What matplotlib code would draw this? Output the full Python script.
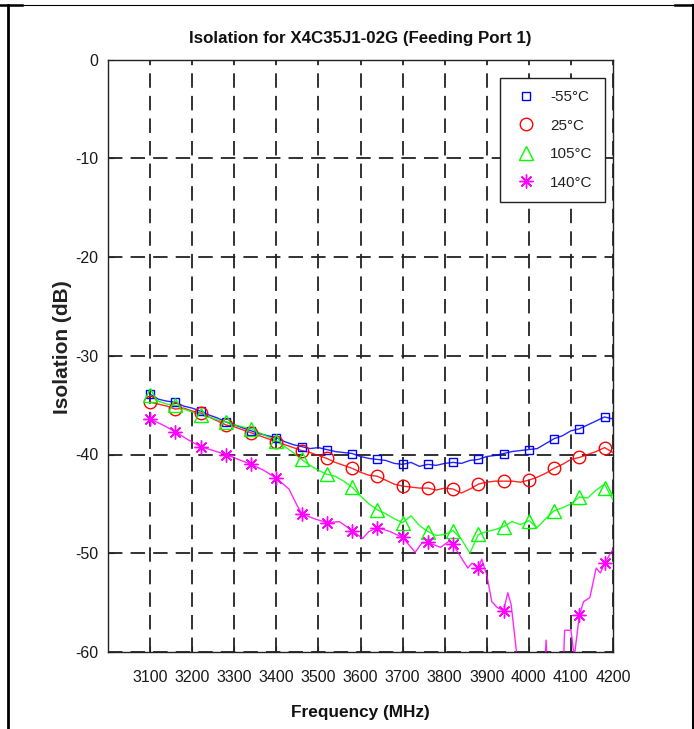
import matplotlib
matplotlib.use('Agg')
import matplotlib.pyplot as plt
from matplotlib.lines import Line2D
import numpy as np

# ---- data ----
marker_freq = [3100, 3160, 3220, 3280, 3340, 3400, 3460, 3520, 3580, 3640,
               3700, 3760, 3820, 3880, 3940, 4000, 4060, 4120, 4180]

m55_marks = [-33.9, -34.7, -35.6, -36.7, -37.6, -38.3, -39.2, -39.5, -39.9, -40.5,
             -41.0, -41.0, -40.8, -40.5, -39.9, -39.5, -38.4, -37.4, -36.2]
t25_marks = [-34.7, -35.4, -35.8, -37.0, -37.8, -38.7, -39.6, -40.4, -41.4, -42.2,
             -43.2, -43.4, -43.5, -43.0, -42.7, -42.6, -41.4, -40.3, -39.3]
t105_marks = [-34.0, -35.0, -36.0, -36.7, -37.4, -38.6, -40.5, -42.0, -43.3, -45.6,
              -46.9, -47.8, -47.7, -48.1, -47.3, -46.7, -45.7, -44.3, -43.4]
t140_marks = [-36.4, -37.7, -39.2, -40.0, -41.0, -42.4, -46.0, -46.9, -47.7, -47.4,
              -48.4, -48.9, -49.1, -51.5, -55.8, -64.0, -64.0, -56.3, -51.0]

line_freq = [3100, 3120, 3140, 3160, 3180, 3200, 3220, 3240, 3260, 3280,
             3300, 3320, 3340, 3360, 3380, 3400, 3420, 3440, 3460, 3480,
             3500, 3520, 3540, 3560, 3580, 3600, 3620, 3640, 3660, 3680,
             3700, 3720, 3740, 3760, 3780, 3800, 3820, 3840, 3860, 3880,
             3900, 3920, 3940, 3960, 3980, 4000, 4020, 4040, 4060, 4080,
             4100, 4120, 4140, 4160, 4180, 4200]

m55_line = [-33.9, -34.4, -34.6, -34.7, -35.1, -35.3, -35.6, -36.0, -36.3, -36.7,
            -37.0, -37.3, -37.6, -37.9, -38.1, -38.3, -38.7, -39.0, -39.2, -39.4,
            -39.3, -39.5, -39.7, -39.8, -39.9, -40.2, -40.4, -40.5, -40.6, -40.9,
            -41.0, -40.8, -41.2, -41.0, -41.1, -40.9, -40.8, -40.9, -40.6, -40.5,
            -40.2, -40.1, -39.9, -39.7, -39.6, -39.5, -39.4, -38.9, -38.4, -38.1,
            -37.6, -37.4, -37.0, -36.6, -36.2, -36.4]
t25_line = [-34.7, -34.9, -35.1, -35.4, -35.3, -35.6, -35.8, -36.2, -36.6, -37.0,
            -37.2, -37.5, -37.8, -38.1, -38.4, -38.7, -39.0, -39.3, -39.6, -39.8,
            -40.1, -40.4, -40.8, -41.1, -41.4, -41.8, -42.1, -42.2, -42.6, -43.0,
            -43.2, -43.3, -43.4, -43.4, -43.6, -43.4, -43.5, -43.9, -43.5, -43.0,
            -42.8, -42.7, -42.7, -42.7, -42.8, -42.6, -42.3, -41.9, -41.4, -41.0,
            -40.5, -40.3, -40.0, -39.7, -39.3, -39.8]
t105_line = [-34.0, -34.6, -34.9, -35.0, -35.4, -35.7, -36.0, -36.2, -36.5, -36.7,
             -37.0, -37.2, -37.4, -37.8, -38.2, -38.6, -39.2, -39.8, -40.5, -41.1,
             -41.6, -42.0, -42.2, -42.7, -43.3, -44.2, -45.0, -45.6, -46.0, -46.5,
             -46.9, -46.2, -47.2, -47.8, -48.2, -48.1, -47.7, -48.6, -50.0, -48.1,
             -47.8, -47.6, -47.3, -46.8, -47.1, -46.7, -47.4, -46.5, -45.7, -45.4,
             -45.0, -44.3, -44.4, -43.6, -43.0, -44.6]

t140_freq = [3100, 3130, 3160, 3190, 3220, 3250, 3280, 3310, 3340, 3370,
             3400, 3430, 3445, 3460, 3490, 3520, 3550, 3580, 3605, 3620,
             3640, 3670, 3700, 3730, 3745, 3760, 3790, 3810, 3820, 3840,
             3855, 3865, 3880, 3888, 3900, 3912, 3925, 3940, 3950, 3958,
             3972, 3985, 4035, 4041, 4047, 4080, 4085, 4100, 4108, 4120,
             4130, 4145, 4160, 4170, 4180, 4200]
t140_line = [-36.4, -37.0, -37.7, -38.5, -39.2, -39.6, -40.0, -40.5, -41.0, -41.6,
             -42.4, -43.5, -44.8, -46.0, -46.5, -46.9, -46.8, -47.7, -48.5, -47.8,
             -47.4, -47.8, -48.4, -49.9, -49.0, -48.9, -49.4, -48.8, -49.1, -50.5,
             -51.5, -51.0, -51.5, -50.6, -52.2, -54.9, -55.5, -55.8, -54.0, -55.2,
             -60.5, -64.0, -64.0, -58.8, -64.0, -64.0, -57.8, -57.8, -60.5, -56.3,
             -54.9, -54.5, -51.5, -52.0, -51.0, -49.6]

labels = ['-55°C', '25°C', '105°C', '140°C']
colors = ['#0000ff', '#ff0000', '#00ff00', '#ff00ff']
markers = ['s', 'o', '^', (8, 2, 0)]
msizes = [6, 9, 9.5, 10]

x_ticks = [3100, 3200, 3300, 3400, 3500, 3600, 3700, 3800, 3900, 4000, 4100, 4200]
y_ticks = [0, -10, -20, -30, -40, -50, -60]

plt.rcParams['font.family'] = ['Liberation Sans', 'DejaVu Sans']
plt.rcParams['axes.unicode_minus'] = False

fig = plt.figure(figsize=(6.94, 7.29), dpi=100)
ax = fig.add_axes([108 / 694, 77 / 729, 505 / 694, 592.5 / 729])

line_sets = [(line_freq, m55_line), (line_freq, t25_line),
             (line_freq, t105_line), (t140_freq, t140_line)]
mark_sets = [m55_marks, t25_marks, t105_marks, t140_marks]

handles = []
for (fx, fy), my, c, mk, ms, lab in zip(line_sets, mark_sets, colors, markers, msizes, labels):
    ax.plot(fx, fy, color=c, lw=1.0, alpha=0.85, zorder=3)
    h, = ax.plot(marker_freq, my, linestyle='none', marker=mk, ms=ms,
                 markerfacecolor='none', markeredgecolor=c, markeredgewidth=1.0,
                 label=lab, zorder=4)
    handles.append(h)

ax.set_xlim(3000, 4200)
ax.set_ylim(-60, 0)
ax.set_xticks(x_ticks)
ax.set_yticks(y_ticks)
ax.tick_params(direction='in', length=4, labelsize=11.5, color='#222222',
               labelcolor='#1a1a1a')
ax.tick_params(axis='x', pad=13)
ax.tick_params(axis='y', pad=7)
ax.grid(True, color='#222222', linestyle=(0, (8, 4.5)), linewidth=1.3)
ax.set_axisbelow(True)
for sp in ax.spines.values():
    sp.set_linewidth(1.0)
    sp.set_color('#222222')

fig.text(360.5 / 694, 1 - 38 / 729, 'Isolation for X4C35J1-02G (Feeding Port 1)',
         ha='center', va='center', fontsize=12.2, fontweight='bold', color='#111111')
ax.set_xlabel('Frequency (MHz)', fontsize=12.4, fontweight='bold', color='#111111')
ax.xaxis.set_label_coords(0.5, (652 - 712) / 592.5)
ax.xaxis.label.set_verticalalignment('center')
ax.set_ylabel('Isolation (dB)', fontsize=15, fontweight='bold', color='#222222')
ax.yaxis.set_label_coords((63 - 108) / 505, (652 - 347) / 592.5)
ax.yaxis.label.set_verticalalignment('center')

leg = ax.legend(handles=handles, loc='upper right',
                bbox_to_anchor=((605 - 108) / 505, (652 - 78) / 592.5),
                borderaxespad=0, fontsize=11, frameon=True, fancybox=False,
                framealpha=1, edgecolor='#222222', handlelength=1.8,
                handletextpad=0.7, labelspacing=0.95, borderpad=0.8)
leg.get_frame().set_linewidth(1.0)
leg.set_zorder(10)
for t in leg.get_texts():
    t.set_color('#222222')

# page frame around the figure (table cell border)
W, H = 694, 729
def fl(x0, y0, x1, y1, lw):
    fig.add_artist(Line2D([x0 / W, x1 / W], [1 - y0 / H, 1 - y1 / H],
                          color='black', lw=lw, transform=fig.transFigure))
fl(0, 4.5, 694, 4.5, 0.8)
fl(0, 5, 22, 5, 1.8)
fl(675, 5, 694, 5, 1.8)
fl(8, 5, 8, 729, 2.0)
fl(692.5, 5, 692.5, 729, 1.5)

fig.savefig('out.png', dpi=100)
